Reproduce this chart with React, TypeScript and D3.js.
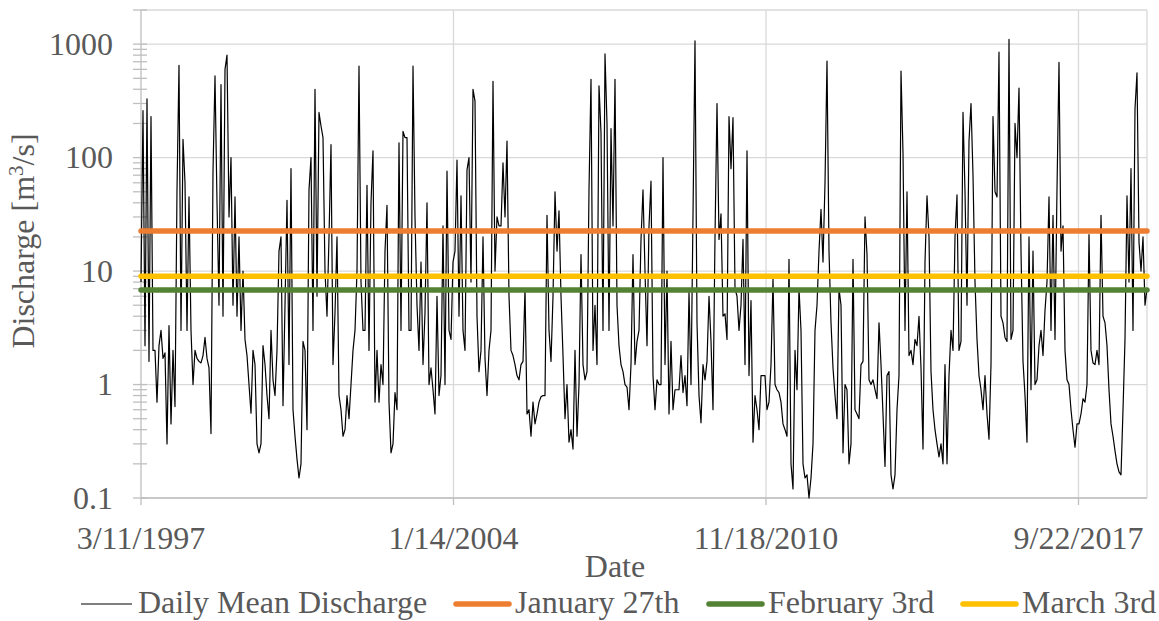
import React, { useEffect, useRef } from "react";
import * as d3 from "d3";

// Daily mean discharge [m3/s]: one value every 16 days from 3/11/1997
const startDate = "3/11/1997";
const sampleDays = 16;
const discharge = [
  // 1997 - 1998
  8, 260, 2.2, 330, 1.6, 230, 2.0, 2.0, 0.7, 2.2, 3.0, 1.7, 1.9, 0.3, 3.3, 0.45, 2.0, 0.64, 52, 650,
  3, 145, 60, 3, 45, 3, 1.0, 2.0, 1.7, 1.6, 1.55, 1.8, 2.6, 1.7, 1.4, 0.37, 76, 525, 40, 5,
  440, 4, 600, 800, 30, 100, 5, 45, 4, 20, 3, 10, 2.5, 1.8, 1.0, 0.56, 2.0, 1.5, 0.3, 0.25,
  0.3, 2.2, 1.5,
  // 2000 - 2002
  0.8, 0.5, 3, 1.1, 0.8, 2.0, 15, 20, 0.65, 5, 42, 1.5, 80, 0.6, 0.35, 0.22, 0.15, 0.2, 2.4, 2,
  0.4, 52, 100, 3, 400, 6, 250, 190, 150, 10, 4, 20, 130, 1.5, 4.3, 20, 0.8, 0.6, 0.35, 0.4,
  0.8, 0.5, 1.0, 2, 3, 10, 640, 8, 3, 3, 57, 2, 40, 115, 0.7, 2, 0.7, 1.5, 1.0, 15,
  38, 0.7,
  // 2003 - 2005
  0.25, 0.3, 0.85, 0.6, 135, 3, 170, 150, 150, 3, 3, 640, 30, 5, 2, 12, 1.5, 4.3, 40, 1.0,
  1.4, 0.9, 0.55, 6, 0.8, 1.2, 25, 1.0, 76, 3, 2.5, 12, 15, 95, 4, 46, 3, 2, 78, 100,
  8, 400, 315, 4, 1.3, 2, 20, 1.7, 0.8, 2, 3, 470, 10, 30, 25, 25, 90, 30, 140, 6,
  2, 1.8, 1.5,
  // 2006 - 2008
  1.2, 1.1, 1.5, 1.6, 7, 0.55, 0.6, 0.35, 0.7, 0.45, 0.55, 0.7, 0.78, 0.8, 0.8, 31, 3, 1.6, 6, 50,
  15, 34, 6, 1.8, 0.5, 1.0, 0.31, 0.4, 0.27, 2.0, 0.35, 1.0, 14, 1.5, 1.1, 1.3, 52, 490, 2, 5,
  1.5, 430, 165, 3, 820, 200, 3, 180, 25, 490, 5, 2.2, 1.5, 1.3, 1.0, 0.95, 0.6, 1.5, 14, 1.5,
  2.4, 3,
  // 2008 - 2010
  19, 52, 10, 2.2, 25, 62, 1.2, 0.6, 1.1, 1.0, 1.0, 100, 1.5, 10, 0.55, 2.4, 0.6, 0.9, 0.9, 0.9,
  1.8, 0.85, 1.2, 0.65, 6.5, 1.0, 31, 1070, 3.5, 0.8, 0.46, 1.5, 1.1, 1.6, 6, 2.4, 0.6, 20, 300, 19,
  32, 4, 4.2, 2.5, 230, 80, 225, 7, 6, 3, 5, 19, 1.5, 115, 1.2, 5.5, 0.31, 0.8, 0.6, 0.4,
  1.2, 1.2,
  // 2011 - 2013
  1.2, 0.6, 0.7, 1.5, 8.5, 1.0, 0.9, 0.85, 0.7, 0.45, 0.4, 0.35, 12.7, 0.2, 0.12, 2, 0.9, 7, 3, 0.2,
  0.15, 0.16, 0.1, 0.15, 0.3, 3, 5, 15, 35, 12, 60, 710, 15, 3.5, 1.4, 0.8, 0.5, 7, 5, 0.25,
  1.0, 0.9, 0.2, 0.3, 12.7, 0.6, 0.55, 0.5, 1.5, 1.6, 30, 14, 1.1, 1.0, 1.1, 0.9, 0.75, 3.5, 1.5, 0.55,
  0.19, 1.2, 1.3,
  // 2013 - 2016
  0.16, 0.12, 0.16, 0.6, 1.2, 580, 110, 3, 50, 1.8, 2, 1.5, 2.5, 2.2, 4, 1.4, 0.27, 12, 46, 20,
  1.3, 0.6, 0.4, 0.3, 0.23, 0.3, 0.2, 1.5, 0.2, 1.2, 3, 2, 20, 47, 2, 2.4, 250, 50, 5, 140,
  300, 70, 8, 2.5, 1.2, 0.9, 0.6, 1.2, 0.55, 0.33, 1.5, 230, 50, 45, 850, 4, 3.5, 2.6, 2.4, 1100,
  2.5, 3, 200,
  // 2016 - 2019
  100, 410, 15, 1.6, 0.8, 0.31, 20, 0.9, 15, 1.0, 1.1, 2.2, 3, 1.8, 4.5, 8, 45, 3, 31, 2.5,
  53, 690, 15, 25, 2, 1.1, 1.0, 0.6, 0.4, 0.28, 0.45, 0.45, 0.55, 0.75, 0.7, 1.0, 21, 2, 1.55, 1.5,
  2, 1.5, 31, 4, 3.5, 2.2, 0.9, 0.45, 0.35, 0.26, 0.2, 0.17, 0.16, 0.6, 2.5, 46, 8, 80, 3, 270,
  560, 18, 10, 20, 5, 7,
];

const thresholdNames = ["January 27th", "February 3rd", "March 3rd"];
const thresholdValues = [22.6, 6.8, 9.0];
const thresholdColors = ["#ED7D31", "#548235", "#FFC000"];

const dateTicks = ["3/11/1997", "1/14/2004", "11/18/2010", "9/22/2017"];
const yTicks = [0.1, 1, 10, 100, 1000];

const W = 1159;
const H = 621;
const FONT = "'Liberation Serif', 'Times New Roman', serif";
const TEXT = "#595959";

export default function App() {
  const ref = useRef<SVGSVGElement>(null);

  useEffect(() => {
    const svg = d3.select(ref.current);
    svg.selectAll("*").remove();

    const parse = d3.timeParse("%m/%d/%Y");
    const t0 = parse(startDate) as Date;
    const data = discharge.map((v, i) => ({ date: d3.timeDay.offset(t0, i * sampleDays), value: v }));
    const tEnd = data[data.length - 1].date;

    const left = 141, right = 1147, top = 10, bottom = 498;
    const x = d3.scaleTime().domain([t0, tEnd]).range([left, right]);
    const y = d3.scaleLog().domain([0.1, 2000]).range([bottom, top]);

    // gridlines
    const grid = svg.append("g").attr("stroke", "#D9D9D9").attr("stroke-width", 1.3);
    yTicks.concat([2000]).forEach((v) => {
      grid.append("line").attr("x1", left).attr("x2", right).attr("y1", y(v)).attr("y2", y(v));
    });
    dateTicks.slice(1).forEach((d) => {
      const xx = x(parse(d) as Date);
      grid.append("line").attr("x1", xx).attr("x2", xx).attr("y1", top).attr("y2", bottom);
    });
    grid.append("line").attr("x1", right).attr("x2", right).attr("y1", top).attr("y2", bottom);

    // y axis with minor ticks
    const axis = svg.append("g").attr("stroke", "#BFBFBF").attr("stroke-width", 1.3);
    axis.append("line").attr("x1", left).attr("x2", left).attr("y1", top).attr("y2", bottom);
    const minor: number[] = [];
    [0.1, 1, 10, 100, 1000].forEach((dec) => {
      for (let k = 1; k <= 9; k++) {
        const v = dec * k;
        if (v <= 2000) minor.push(v);
      }
    });
    minor.forEach((v) => {
      axis.append("line").attr("x1", left - 8).attr("x2", left + 6).attr("y1", y(v)).attr("y2", y(v));
    });
    // x axis
    axis.append("line").attr("x1", left).attr("x2", right).attr("y1", bottom).attr("y2", bottom);
    dateTicks.forEach((d) => {
      const xx = x(parse(d) as Date);
      axis.append("line").attr("x1", xx).attr("x2", xx).attr("y1", bottom).attr("y2", bottom + 7);
    });

    // tick labels
    svg
      .append("g")
      .selectAll("text")
      .data(yTicks)
      .enter()
      .append("text")
      .attr("x", 113)
      .attr("y", (d) => y(d))
      .attr("dy", "0.33em")
      .attr("text-anchor", "end")
      .text((d) => String(d));

    svg
      .append("g")
      .selectAll("text")
      .data(dateTicks)
      .enter()
      .append("text")
      .attr("x", (d) => x(parse(d) as Date))
      .attr("y", 549)
      .attr("text-anchor", "middle")
      .text((d) => d);

    // axis titles
    svg.append("text").attr("x", 615).attr("y", 577).attr("text-anchor", "middle").text("Date");
    const yt = svg
      .append("text")
      .attr("transform", "translate(34,241) rotate(-90)")
      .attr("text-anchor", "middle");
    yt.append("tspan").text("Discharge [m");
    yt.append("tspan").attr("font-size", 21).attr("dy", -11).text("3");
    yt.append("tspan").attr("dy", 11).text("/s]");

    // daily discharge series
    const line = d3
      .line<{ date: Date; value: number }>()
      .x((d) => x(d.date))
      .y((d) => y(d.value));
    svg
      .append("path")
      .datum(data)
      .attr("d", line)
      .attr("fill", "none")
      .attr("stroke", "#000")
      .attr("stroke-width", 1.2)
      .attr("stroke-linejoin", "round");

    // threshold lines
    thresholdValues.forEach((v, i) => {
      svg
        .append("line")
        .attr("x1", x(t0))
        .attr("x2", x(tEnd))
        .attr("y1", y(v))
        .attr("y2", y(v))
        .attr("stroke", thresholdColors[i])
        .attr("stroke-width", 5.5)
        .attr("stroke-linecap", "round");
    });

    // legend
    const lg = svg.append("g");
    const ly = 604;
    lg.append("line").attr("x1", 81).attr("x2", 132).attr("y1", ly).attr("y2", ly).attr("stroke", "#000").attr("stroke-width", 1.2);
    lg.append("text").attr("x", 138).attr("y", 613).text("Daily Mean Discharge");
    const lx = [456, 709, 963];
    thresholdNames.forEach((name, i) => {
      lg.append("line")
        .attr("x1", lx[i])
        .attr("x2", lx[i] + 53)
        .attr("y1", ly)
        .attr("y2", ly)
        .attr("stroke", thresholdColors[i])
        .attr("stroke-width", 5.5)
        .attr("stroke-linecap", "round");
      lg.append("text").attr("x", lx[i] + 59).attr("y", 613).text(name);
    });

    svg.selectAll("text").attr("fill", TEXT);
  }, []);

  return (
    <div style={{ position: "fixed", left: 0, top: 0, background: "#fff" }}>
      <svg ref={ref} width={W} height={H} fontFamily={FONT} fontSize={32} style={{ display: "block" }} />
    </div>
  );
}
